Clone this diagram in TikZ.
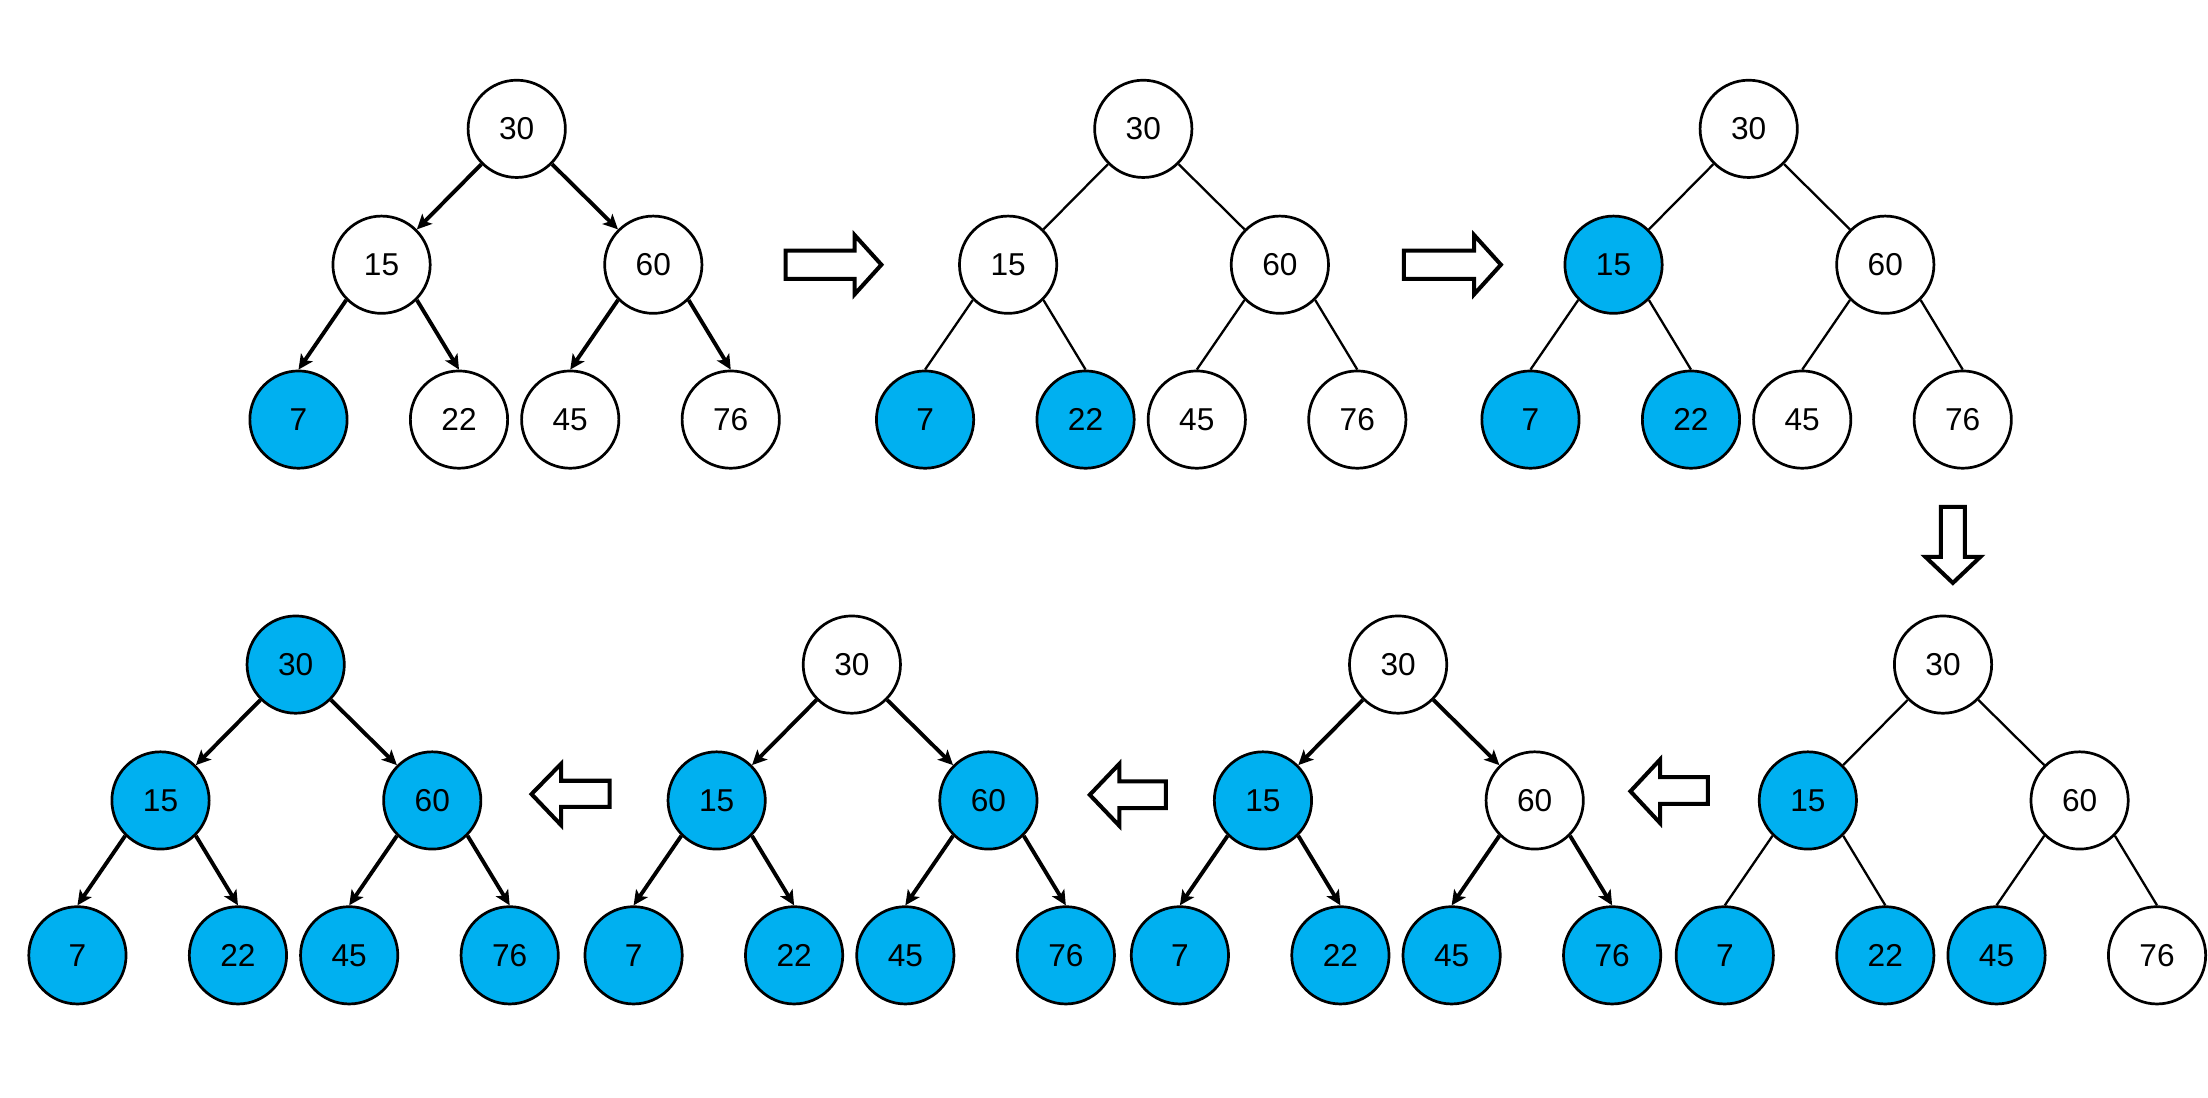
\documentclass[tikz,border=0pt]{standalone}
\usepackage{fontspec}
\setmainfont{Liberation Sans}
\usetikzlibrary{arrows.meta}
\definecolor{heapblue}{RGB}{0,176,240}
\tikzset{
  hnode/.style={circle, draw=black, line width=0.77pt, minimum size=0.973cm, inner sep=0pt, font=\fontsize{9}{10}\selectfont},
  hw/.style={hnode, fill=white},
  hb/.style={hnode, fill=heapblue},
  arr/.style={line width=1.1pt, -{Stealth[length=4.2pt,width=4pt,inset=1pt]}},
  plainedge/.style={line width=0.65pt},
  blockarrow/.style={draw=black, fill=white, line width=1.15pt, line join=miter}
}
% #1 prefix, #2 edge style, #3..#9 styles of 30,15,60,7,22,45,76
\newcommand\heaptree[9]{%
  \node[#3] (#1r) at (0,0) {30};
  \node[#4] (#1a) at (-96,96.5) {15};
  \node[#5] (#1b) at (97,96.5) {60};
  \node[#6] (#1c) at (-155,206.5) {7};
  \node[#7] (#1d) at (-41,206.5) {22};
  \node[#8] (#1e) at (38,206.5) {45};
  \node[#9] (#1f) at (152,206.5) {76};
  \draw[#2] (#1r.225) -- (#1a.45);
  \draw[#2] (#1r.315) -- (#1b.135);
  \draw[#2] (#1a.225) -- (#1c.north);
  \draw[#2] (#1a.315) -- (#1d.north);
  \draw[#2] (#1b.225) -- (#1e.north);
  \draw[#2] (#1b.315) -- (#1f.north);
}
\begin{document}
\begin{tikzpicture}[x=0.01408cm, y=-0.01408cm]
  \useasboundingbox (0,0) rectangle (1568.2,779.8);
  \fill[white] (0,0) rectangle (1568.2,779.8);

  % row 1
  \begin{scope}[shift={(367,91.5)}]
    \heaptree{t1}{arr}{hw}{hw}{hw}{hb}{hw}{hw}{hw}
  \end{scope}
  \begin{scope}[shift={(812,91.5)}]
    \heaptree{t2}{plainedge}{hw}{hw}{hw}{hb}{hb}{hw}{hw}
  \end{scope}
  \begin{scope}[shift={(1242,91.5)}]
    \heaptree{t3}{plainedge}{hw}{hb}{hw}{hb}{hb}{hw}{hw}
  \end{scope}

  % row 2
  \begin{scope}[shift={(1380,472)}]
    \heaptree{t4}{plainedge}{hw}{hb}{hw}{hb}{hb}{hb}{hw}
  \end{scope}
  \begin{scope}[shift={(993,472)}]
    \heaptree{t5}{arr}{hw}{hb}{hw}{hb}{hb}{hb}{hb}
  \end{scope}
  \begin{scope}[shift={(605,472)}]
    \heaptree{t6}{arr}{hw}{hb}{hb}{hb}{hb}{hb}{hb}
  \end{scope}
  \begin{scope}[shift={(210,472)}]
    \heaptree{t7}{arr}{hb}{hb}{hb}{hb}{hb}{hb}{hb}
  \end{scope}

  % block arrows, row 1 (right)
  \draw[blockarrow] (558,178) -- (607,178) -- (607,167) -- (626,188) -- (607,209) -- (607,198) -- (558,198) -- cycle;
  \draw[blockarrow] (997,178) -- (1047,178) -- (1047,167) -- (1066,188) -- (1047,209) -- (1047,198) -- (997,198) -- cycle;
  % down arrow
  \draw[blockarrow] (1378.5,360) -- (1395.5,360) -- (1395.5,395.5) -- (1406.5,395.5) -- (1387,414) -- (1367.5,395.5) -- (1378.5,395.5) -- cycle;
  % block arrows, row 2 (left)
  \draw[blockarrow] (1158,562) -- (1179,539.5) -- (1179,552) -- (1213,552) -- (1213,571) -- (1179,571) -- (1179,584.5) -- cycle;
  \draw[blockarrow] (774,564.5) -- (795,542.5) -- (795,555) -- (828,555) -- (828,574) -- (795,574) -- (795,586.5) -- cycle;
  \draw[blockarrow] (377.5,564) -- (398.5,542.5) -- (398.5,554.5) -- (433,554.5) -- (433,573) -- (398.5,573) -- (398.5,586) -- cycle;
\end{tikzpicture}
\end{document}
